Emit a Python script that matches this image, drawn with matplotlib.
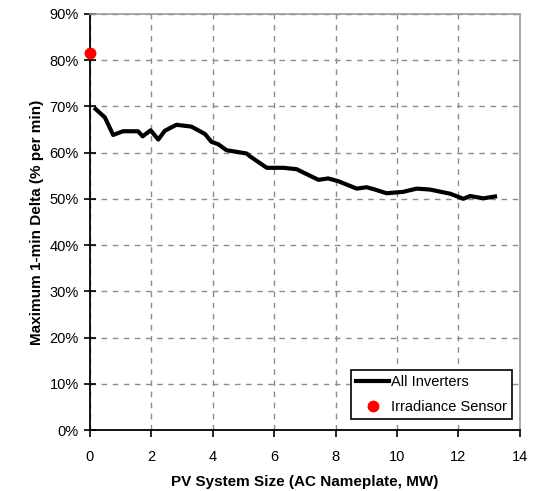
import matplotlib
matplotlib.use("Agg")
import matplotlib.pyplot as plt
from matplotlib.ticker import FuncFormatter

plt.rcParams['font.family'] = ['Liberation Sans', 'DejaVu Sans']

# aggregate max 1-min ramp vs. plant size (%)
size_mw = [0.19, 0.49, 0.76, 1.08, 1.57, 1.72, 1.98, 2.23, 2.44, 2.82, 3.31,
           3.53, 3.75, 3.96, 4.18, 4.45, 5.10, 5.21, 5.76, 6.30, 6.73, 7.44,
           7.76, 8.09, 8.69, 9.01, 9.28, 9.66, 10.20, 10.64, 11.07, 11.73,
           12.16, 12.38, 12.81, 13.19]
max_delta = [69.4, 67.6, 63.8, 64.6, 64.6, 63.5, 64.8, 62.8, 64.7, 66.0, 65.6,
             64.8, 64.0, 62.3, 61.8, 60.5, 59.8, 59.2, 56.7, 56.7, 56.4, 54.1,
             54.4, 53.8, 52.2, 52.5, 52.0, 51.2, 51.5, 52.2, 52.0, 51.1,
             50.0, 50.6, 50.1, 50.5]

# single sensor reference point
sensor_size = [0.0]
sensor_delta = [81.5]

fig = plt.figure(figsize=(5.41, 4.91), dpi=100)
ax = fig.add_axes([0.166, 0.124, 0.795, 0.848])

ax.plot(size_mw, max_delta, color='black', lw=3, label='All Inverters',
        solid_joinstyle='round', zorder=3)
ax.plot(sensor_size, sensor_delta, 'o', color='red', ms=7.5, label='Irradiance Sensor',
        clip_on=False, zorder=4)

ax.set_xlim(0, 14)
ax.set_ylim(0, 90)
ax.set_xticks(range(0, 15, 2))
ax.set_yticks(range(0, 91, 10))
ax.yaxis.set_major_formatter(FuncFormatter(lambda v, p: '%d%%' % v))

ax.grid(True, color='#8c8c8c', ls=(0, (4, 4)), lw=1)
ax.set_axisbelow(True)

for s in ('top', 'right'):
    ax.spines[s].set_color('#9a9a9a')
    ax.spines[s].set_linewidth(1.2)
for s in ('left', 'bottom'):
    ax.spines[s].set_color('black')
    ax.spines[s].set_linewidth(1.3)

ax.tick_params(axis='x', direction='out', length=5, width=1.2, labelsize=10.5, pad=9)
ax.tick_params(axis='y', direction='inout', length=8, width=1.2, labelsize=10.5, pad=4)

ax.set_xlabel('PV System Size (AC Nameplate, MW)', fontsize=11, fontweight='bold', labelpad=8)
ax.set_ylabel('Maximum 1-min Delta (% per min)', fontsize=11, fontweight='bold', labelpad=4)

leg = ax.legend(loc='lower right', bbox_to_anchor=(0.981, 0.026), fontsize=10.5,
                fancybox=False, framealpha=1, edgecolor='black', handlelength=2.2,
                borderpad=0.35, labelspacing=0.75, handletextpad=0.15,
                borderaxespad=0)
leg.get_frame().set_linewidth(1.2)

fig.savefig('out.png', dpi=100)
